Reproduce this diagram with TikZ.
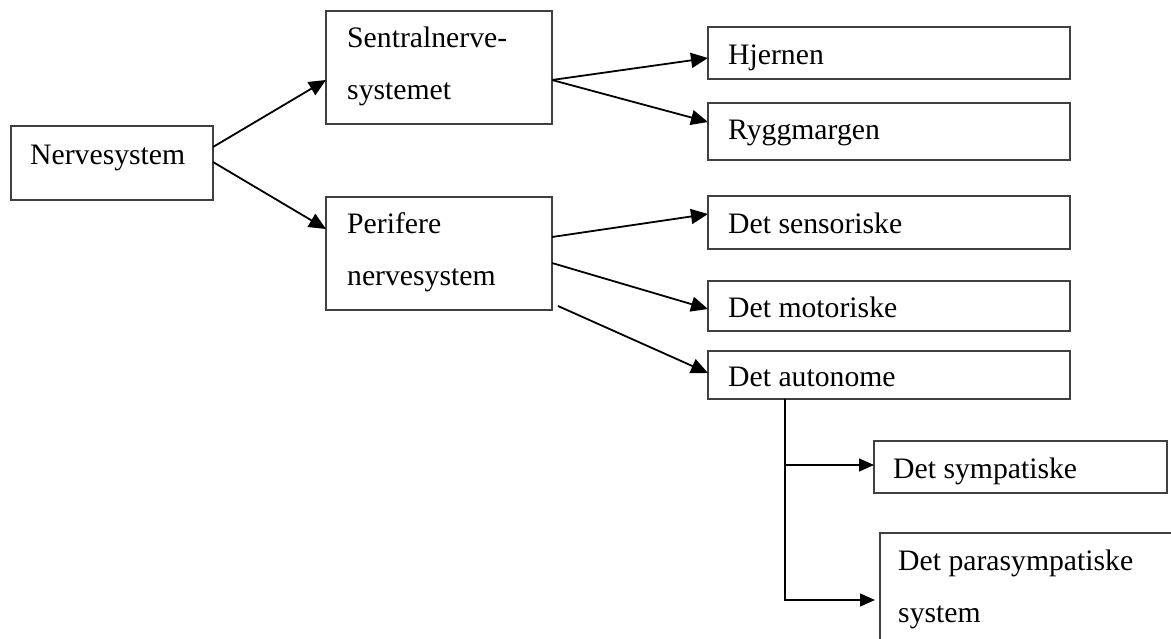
\documentclass[tikz,border=0pt]{standalone}
\usepackage{fontspec}
\setmainfont{Liberation Serif}
\usetikzlibrary{arrows.meta,calc}
\newcommand{\twolines}[2]{\vtop{\hbox{#1}\hbox{#2}}}
\tikzset{
  box/.style={draw=black!75, line width=1.3pt, inner sep=0pt, outer sep=0pt, anchor=north west},
  txt/.style={anchor=base west, inner sep=0pt, font=\fontsize{29.7}{52}\selectfont},
  arr/.style={-{Triangle[length=17pt,width=15pt]}, line width=1.8pt, black},
  tarr/.style={-{Triangle[length=15pt,width=13pt]}, line width=1.4pt, black},
}
\begin{document}
\begin{tikzpicture}[x=1pt,y=-1pt]
\useasboundingbox (0,0) rectangle (1171,639);
\clip (0,0) rectangle (1171,639);
% boxes
\node[box, minimum width=202pt, minimum height=74pt] (nerve) at (11,126) {};
\node[box, minimum width=226pt, minimum height=113pt] (sentral) at (326,11) {};
\node[box, minimum width=226pt, minimum height=113pt] (perif) at (326,197) {};
\node[box, minimum width=362pt, minimum height=52pt] (hjer) at (708,27) {};
\node[box, minimum width=362pt, minimum height=57pt] (rygg) at (708,103) {};
\node[box, minimum width=362pt, minimum height=53pt] (sens) at (708,196) {};
\node[box, minimum width=362pt, minimum height=50pt] (mot) at (708,281) {};
\node[box, minimum width=362pt, minimum height=48pt] (auto) at (708,351) {};
\node[box, minimum width=293pt, minimum height=52pt] (symp) at (874,441) {};
\node[box, minimum width=400pt, minimum height=200pt] (para) at (880,533) {};
% texts
\node[txt] (tnerve) at (30,165) {Nervesystem};
\node[txt] (tsentral) at (347,48) {\twolines{Sentralnerve-}{systemet}};
\node[txt] (tperif) at (347,234) {\twolines{Perifere}{nervesystem}};
\node[txt] (thjer) at (728,65) {Hjernen};
\node[txt] (trygg) at (728,140) {Ryggmargen};
\node[txt] (tsens) at (728,234) {Det sensoriske};
\node[txt] (tmot) at (728,318) {Det motoriske};
\node[txt] (tauto) at (728,386) {Det autonome};
\node[txt] (tsymp) at (893,478) {Det sympatiske};
\node[txt] (tpara) at (898,570) {\twolines{Det parasympatiske}{system}};
% connectors
\draw[arr] ($(nerve.north east)+(0,21)$) -- ($(sentral.north west)+(0,69)$);
\draw[arr] ($(nerve.north east)+(0,36)$) -- ($(perif.north west)+(0,32)$);
\draw[arr] ($(sentral.north east)+(0,69)$) -- ($(hjer.north west)+(0,31)$);
\draw[arr] ($(sentral.north east)+(0,69)$) -- ($(rygg.north west)+(0,19)$);
\draw[arr] ($(perif.north east)+(0,40)$) -- ($(sens.north west)+(0,18)$);
\draw[arr] ($(perif.north east)+(0,66)$) -- ($(mot.north west)+(0,28)$);
\coordinate (pstart) at (558,306);
\draw[arr] (pstart) -- ($(auto.north west)+(0,22)$);
\draw[tarr] ($(auto.south west)+(77,0)$) |- ($(symp.north west)+(0,24)$);
\draw[tarr] ($(auto.south west)+(77,0)$) |- ($(para.north west)+(-5,67)$);
\end{tikzpicture}
\end{document}
